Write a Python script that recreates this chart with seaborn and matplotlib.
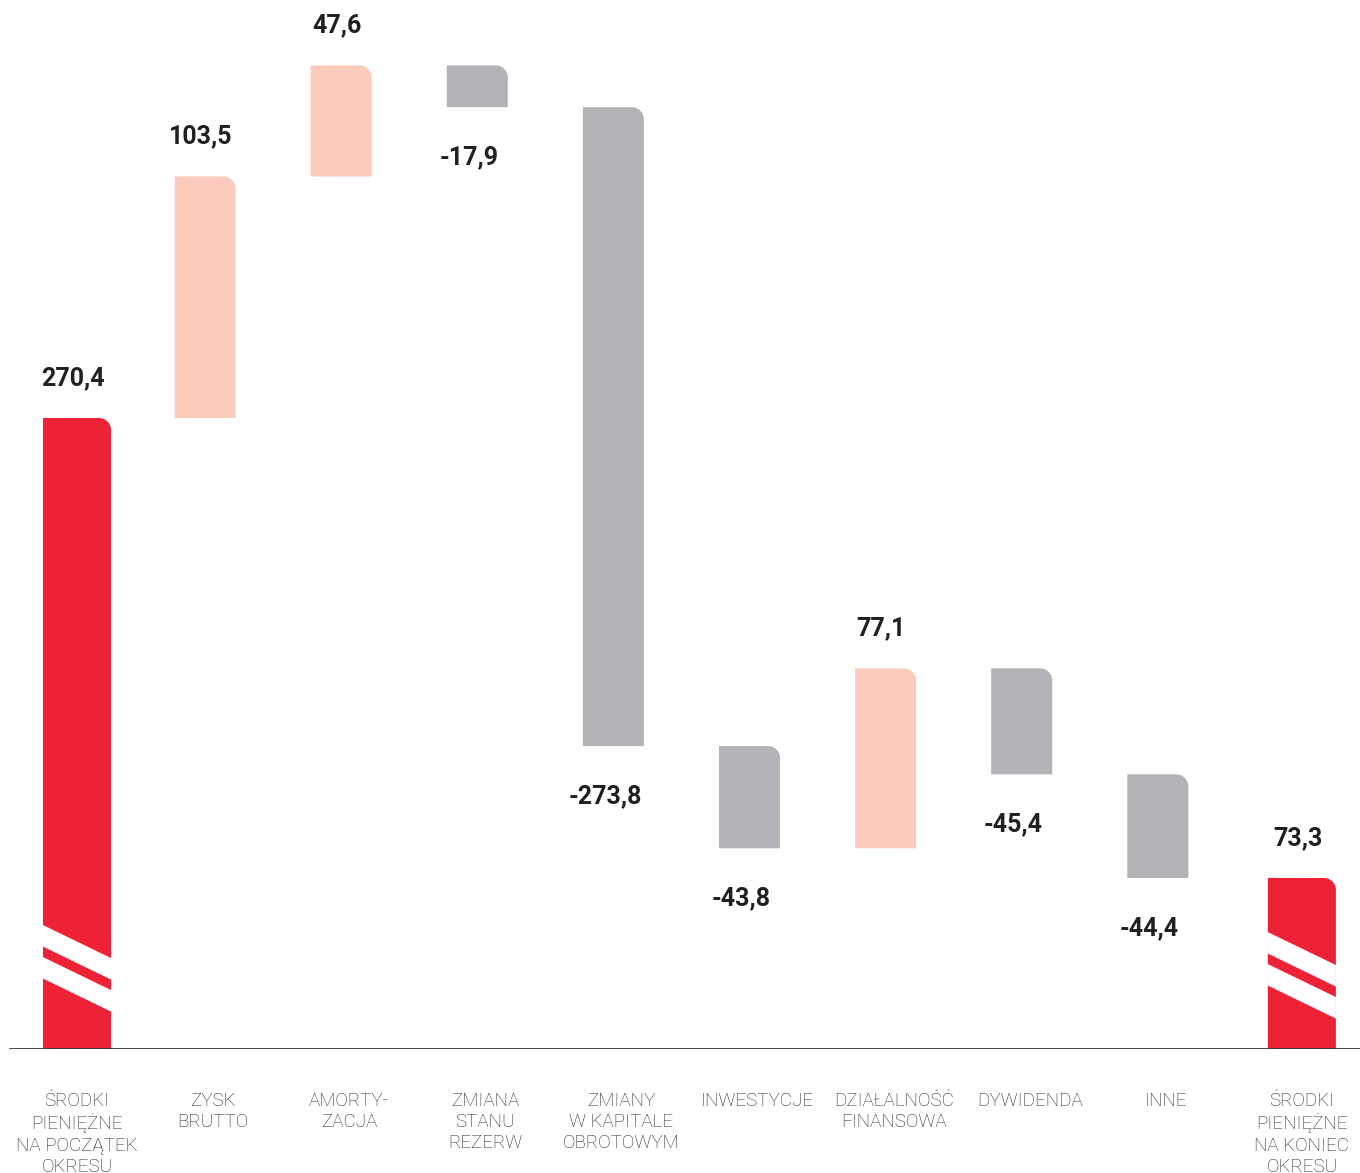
"""
Rachunek przepływów pieniężnych - wykres kaskadowy (waterfall)
"""

import numpy as np
import pandas as pd
import matplotlib
matplotlib.use('Agg')
import matplotlib.pyplot as plt
from matplotlib.path import Path
from matplotlib.patches import PathPatch, Polygon
import seaborn as sns

sns.set_style("white")
plt.rcParams['font.family'] = ['Roboto', 'DejaVu Sans']

# ── dane ────────────────────────────────────────────────
STEPS = [
    'ŚRODKI\nPIENIĘŻNE\nNA POCZĄTEK\nOKRESU',
    'ZYSK\nBRUTTO',
    'AMORTY-\nZACJA',
    'ZMIANA\nSTANU\nREZERW',
    'ZMIANY\nW KAPITALE\nOBROTOWYM',
    'INWESTYCJE',
    'DZIAŁALNOŚĆ\nFINANSOWA',
    'DYWIDENDA',
    'INNE',
    'ŚRODKI\nPIENIĘŻNE\nNA KONIEC\nOKRESU',
]
VALUES = [270.4, 103.5, 47.6, -17.9, -273.8, -43.8, 77.1, -45.4, -44.4, 73.3]
KINDS = ['total', 'up', 'up', 'down', 'down', 'down', 'up', 'down', 'down', 'total']
VALUE_LABELS = ['270,4', '103,5', '47,6', '-17,9', '-273,8', '-43,8',
                '77,1', '-45,4', '-44,4', '73,3']

PALETTE = {'total': '#ED2236', 'up': '#FBCBBB', 'down': '#B2B3B6'}

# ── geometria kaskady ──────────────────────────────────
bottoms = []
level = 0.0
for v, k in zip(VALUES, KINDS):
    if k == 'total':
        bottoms.append(0.0)
        level = v
    else:
        new = level + v
        bottoms.append(min(level, new))
        level = new

df = pd.DataFrame({
    'step': STEPS,
    'span': np.abs(VALUES),
    'bottom': bottoms,
    'kind': KINDS,
    'label': VALUE_LABELS,
})

# ── rysunek ────────────────────────────────────────────
W, H = 1360, 1173
BASE_PX = 1049          # linia bazowa (px od góry)
PX_PER_UNIT = 2.3336    # skala osi Y
X0_PX, DX_PX = 77, 136.1

fig = plt.figure(figsize=(W / 100, H / 100), dpi=100)
ax = fig.add_axes([0, (H - BASE_PX) / H, 1, BASE_PX / H])

sns.barplot(data=df, x='step', y='span', hue='kind', palette=PALETTE,
            dodge=False, width=0.448, saturation=1, legend=False, ax=ax)

px = 1 / DX_PX  # 1 piksel w jednostkach osi X
rx, ry = 12 * px, 12 / PX_PER_UNIT
K = 0.5523


def rounded_bar(x, y, w, h, color):
    """prostokąt z zaokrąglonym prawym górnym rogiem"""
    r_y = min(ry, h)
    verts = [
        (x, y), (x + w, y), (x + w, y + h - r_y),
        (x + w, y + h - r_y + K * r_y), (x + w - rx + K * rx, y + h), (x + w - rx, y + h),
        (x, y + h), (x, y),
    ]
    codes = [Path.MOVETO, Path.LINETO, Path.LINETO,
             Path.CURVE4, Path.CURVE4, Path.CURVE4,
             Path.LINETO, Path.CLOSEPOLY]
    ax.add_patch(PathPatch(Path(verts, codes), facecolor=color, edgecolor='none',
                           lw=0, zorder=2))


for patch in list(ax.patches):
    cx = patch.get_x() + patch.get_width() / 2
    i = int(round(cx))
    if i < 0 or i >= len(df) or patch.get_height() == 0:
        patch.set_visible(False)
        continue
    row = df.iloc[i]
    if row['kind'] == 'total':
        w = 68 * px
        c = i
    else:
        w = 61 * px
        c = i - 8 * px
    patch.set_visible(False)
    rounded_bar(c - w / 2, row['bottom'], w, row['span'], patch.get_facecolor())

    # paski "przerwania osi" na słupkach sum
    if row['kind'] == 'total':
        top0 = 53 if i == 0 else 50
        drop, thick, gap = 33 / PX_PER_UNIT, 21 / PX_PER_UNIT, 11 / PX_PER_UNIT
        xl, xr = c - w / 2, c + w / 2
        for s in (top0, top0 - thick - gap):
            ax.add_patch(Polygon([(xl, s), (xr, s - drop), (xr, s - drop - thick),
                                  (xl, s - thick)], closed=True, facecolor='white',
                                 edgecolor='white', lw=0.3, zorder=3))

    # etykiety wartości
    if row['kind'] == 'down':
        ax.annotate(row['label'], (c, row['bottom']), xytext=(-6, -36),
                    textcoords='offset points', ha='center', va='center',
                    fontsize=18, fontweight='bold', color='#231F20')
    else:
        ax.annotate(row['label'], (c, row['bottom'] + row['span']), xytext=(-3, 28.8),
                    textcoords='offset points', ha='center', va='center',
                    fontsize=18, fontweight='bold', color='#231F20')

ax.axhline(0, xmin=10 / W, xmax=1, color='#3A3A3A', lw=1.3, zorder=4)

ax.set_xlim(-X0_PX / DX_PX, (W - X0_PX) / DX_PX)
ax.set_ylim(0, BASE_PX / PX_PER_UNIT)
ax.set_xticks(range(len(STEPS)))
ax.set_xticklabels(STEPS, fontsize=13.5, color='#262626', fontweight='light',
                   linespacing=1.22)
ax.tick_params(axis='x', length=0, pad=31)
ax.set_yticks([])
ax.set_xlabel('')
ax.set_ylabel('')
for s in ax.spines.values():
    s.set_visible(False)

fig.savefig('out.png', dpi=100)
plt.close()
print('✓ zapisano out.png')
